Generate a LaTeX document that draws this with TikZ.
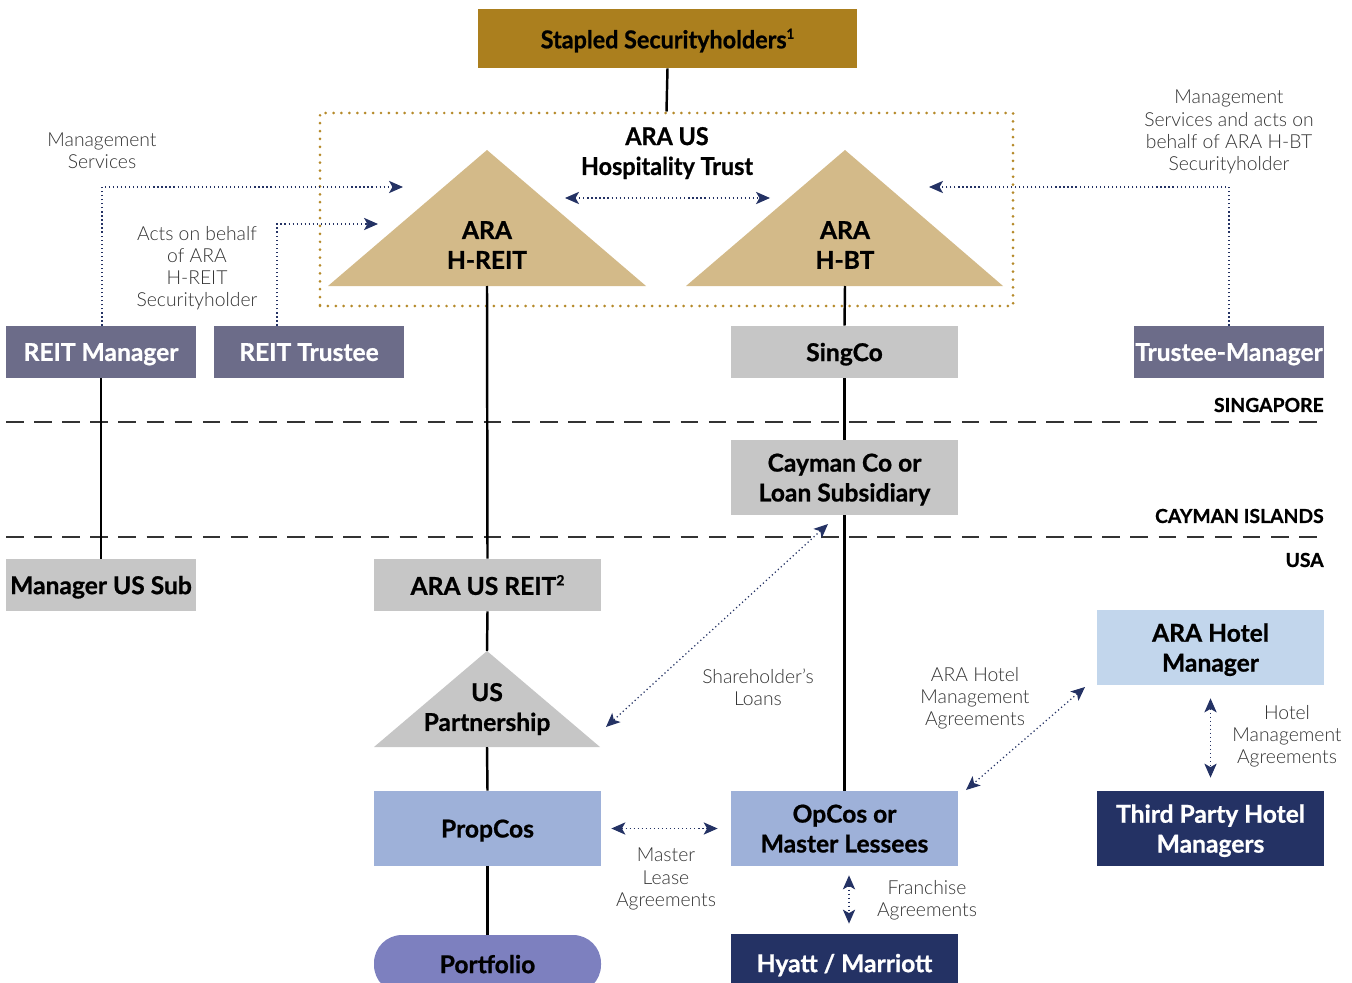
\documentclass[tikz,border=0pt]{standalone}
\usepackage{fontspec}
\setmainfont{Lato}[BoldFeatures={FakeBold=0.8}]
\newfontfamily\lightfont{Lato Light}
\usetikzlibrary{arrows.meta,calc,positioning}

\definecolor{goldbox}{HTML}{AB7F1E}
\definecolor{goldframe}{HTML}{B58A2A}
\definecolor{tanfill}{HTML}{D3BA89}
\definecolor{slate}{HTML}{6C6C89}
\definecolor{greybox}{HTML}{C6C6C6}
\definecolor{bluebox}{HTML}{9EB1D9}
\definecolor{paleblue}{HTML}{C2D6EC}
\definecolor{navy}{HTML}{243264}
\definecolor{violet}{HTML}{7D80BF}
\definecolor{notegrey}{HTML}{333333}

\tikzset{
  sz/.style 2 args={minimum width=#1*0.02cm, minimum height=#2*0.02cm},
  entity/.style={inner sep=0pt, text depth=0pt, align=center, font=\fontsize{14}{17}\selectfont\bfseries},
  darkbox/.style={entity, fill=#1, text=white},
  lightbox/.style={entity, fill=#1, text=black},
  link/.style={draw=black, line width=1.4pt},
  service/.style={draw=navy, line width=0.7pt, dash pattern=on 0.7pt off 1.6pt,
    arrows={-Stealth[length=8pt, width=7pt, inset=2pt]}},
  both/.style={service, arrows={Stealth[length=8pt, width=7pt, inset=2pt]-Stealth[length=8pt, width=7pt, inset=2pt]}},
  note/.style={align=center, text=notegrey, font=\lightfont\fontsize{11}{12.6}\selectfont},
  zonelabel/.style={anchor=east, inner sep=0pt, font=\fontsize{11}{13}\selectfont\bfseries},
  zoneline/.style={draw=black!80, line width=0.6pt, dash pattern=on 10pt off 6pt},
  frame/.style={draw=goldframe, line width=1.7pt, line cap=round, dash pattern=on 0pt off 4.5pt},
}

\newcommand{\narrow}[1]{\scalebox{0.95}[1]{#1}}
\newcommand{\supnum}[1]{\raisebox{0.75ex}{\fontsize{8}{8}\selectfont #1}}

\begin{document}
\begin{tikzpicture}[x=0.02cm, y=-0.02cm]
\useasboundingbox (0,0) rectangle (1352,983);

% top of the structure
\node[lightbox=goldbox, sz={379}{59}] (holders) at (667.5,38.5) {\narrow{Stapled Securityholders\supnum{1}}};
\node[frame, sz={693}{193}] (trust) at (666.5,209.5) {};
\node[entity] (trustname) at (667,151) {\narrow{ARA US}\\\narrow{Hospitality Trust}};

% the two stapled entities
\fill[tanfill] (328,286) -- (487,150) -- (646,286) -- cycle;
\fill[tanfill] (686,286) -- (845,150) -- (1003,286) -- cycle;
\node[entity] (hreitname) at (487,245) {ARA\\H-REIT};
\node[entity] (hbtname) at (845,245) {ARA\\H-BT};
\coordinate (hreit) at (487,286);
\coordinate (hbt) at (845,286);
\coordinate (staple l) at (565,198);
\coordinate (staple r) at (770,198);

% Singapore row
\node[darkbox=slate, sz={190}{52}] (reitmgr) at (101,352) {REIT Manager};
\node[darkbox=slate, sz={190}{52}] (reittrustee) at (309,352) {REIT Trustee};
\node[lightbox=greybox, sz={227}{52}] (singco) at (844.5,352) {SingCo};
\node[darkbox=slate, sz={190}{52}] (trusteemgr) at (1229,352) {Trustee-Manager};

% Cayman and USA rows
\node[lightbox=greybox, sz={227}{75}] (cayman) at (844.5,477.5) {Cayman Co or\\Loan Subsidiary};
\node[lightbox=greybox, sz={190}{52}] (mgrussub) at (101,585) {Manager US Sub};
\node[lightbox=greybox, sz={227}{52}] (arausreit) at (487.5,585) {ARA US REIT\supnum{2}};
\fill[greybox] (374,747) -- (487,651) -- (600,747) -- cycle;
\node[entity] (uspartname) at (487,707) {US\\Partnership};
\coordinate (uspart top) at (487,651);
\coordinate (uspart base) at (487,747);
\node[lightbox=bluebox, sz={227}{75}] (propcos) at (487.5,828.5) {PropCos};
\node[lightbox=bluebox, sz={227}{75}] (opcos) at (844.5,828.5) {OpCos or\\Master Lessees};
\node[lightbox=violet, sz={227}{58}, rounded corners=0.56cm] (portfolio) at (487.5,964) {Portfolio};
\node[darkbox=navy, sz={227}{58}] (hyatt) at (844.5,963) {Hyatt / Marriott};
\node[lightbox=paleblue, sz={227}{75}] (hotelmgr) at (1210.5,647.5) {ARA Hotel\\Manager};
\node[darkbox=navy, sz={227}{75}] (thirdparty) at (1210.5,828.5) {Third Party Hotel\\Managers};

% country borders
\draw[zoneline] (6,422) -- (1324,422);
\draw[zoneline] (6,537) -- (1324,537);
\node[zonelabel] (sg) at (1324,405) {SINGAPORE};
\node[zonelabel] (ky) at (1324,516) {CAYMAN ISLANDS};
\node[zonelabel] (us) at (1324,560) {USA};

% ownership lines
\draw[link] (holders.south) -- (trust.north);
\draw[link] (reitmgr.south) -- (mgrussub.north);
\draw[link] (hreit) -- (arausreit.north);
\draw[link] (arausreit.south) -- (uspart top);
\draw[link] (uspart base) -- (propcos.north);
\draw[link] (propcos.south) -- (portfolio.north);
\draw[link] (hbt) -- (singco.north);
\draw[link] (singco.south) -- (cayman.north);
\draw[link] (cayman.south) -- (opcos.north);

% services and agreements
\coordinate (mgmt end) at (403,187);
\coordinate (trustee end) at (378,224);
\coordinate (tm end) at (929,187);
\coordinate (loan top) at (828,524);
\coordinate (loan bottom) at (606,727);
\coordinate (hma top) at (1085,687);
\coordinate (hma bottom) at (966,790);
\draw[service] ($(reitmgr.north)+(1,0)$) |- (mgmt end);
\draw[service] ($(reittrustee.north)+(-32,0)$) |- (trustee end);
\draw[service] (trusteemgr.north) |- (tm end);
\draw[both] (staple l) -- (staple r);
\draw[both] (loan top) -- (loan bottom);
\draw[both] (hma top) -- (hma bottom);
\draw[both] ($(propcos.east)+(10,0)$) -- ($(opcos.west)+(-13,0)$);
\draw[both] ($(opcos.south)+(4.5,9)$) -- ($(hyatt.north)+(4.5,-10)$);
\draw[both] ($(hotelmgr.south)+(0,13)$) -- ($(thirdparty.north)+(0,-13)$);

% notes
\node[note] (n1) at (102,151) {Management\\Services};
\node[note] (n2) at (197,268) {Acts on behalf\\of ARA\\H-REIT\\Securityholder};
\node[note] (n3) at (1229,132) {Management\\Services and acts on\\behalf of ARA H-BT\\Securityholder};
\node[note] (n4) at (758,687) {Shareholder’s\\Loans};
\node[note] (n5) at (975,698) {ARA Hotel\\Management\\Agreements};
\node[note] (n6) at (666,879) {Master\\Lease\\Agreements};
\node[note] (n7) at (927,900) {Franchise\\Agreements};
\node[note] (n8) at (1287,736) {Hotel\\Management\\Agreements};
\end{tikzpicture}
\end{document}
